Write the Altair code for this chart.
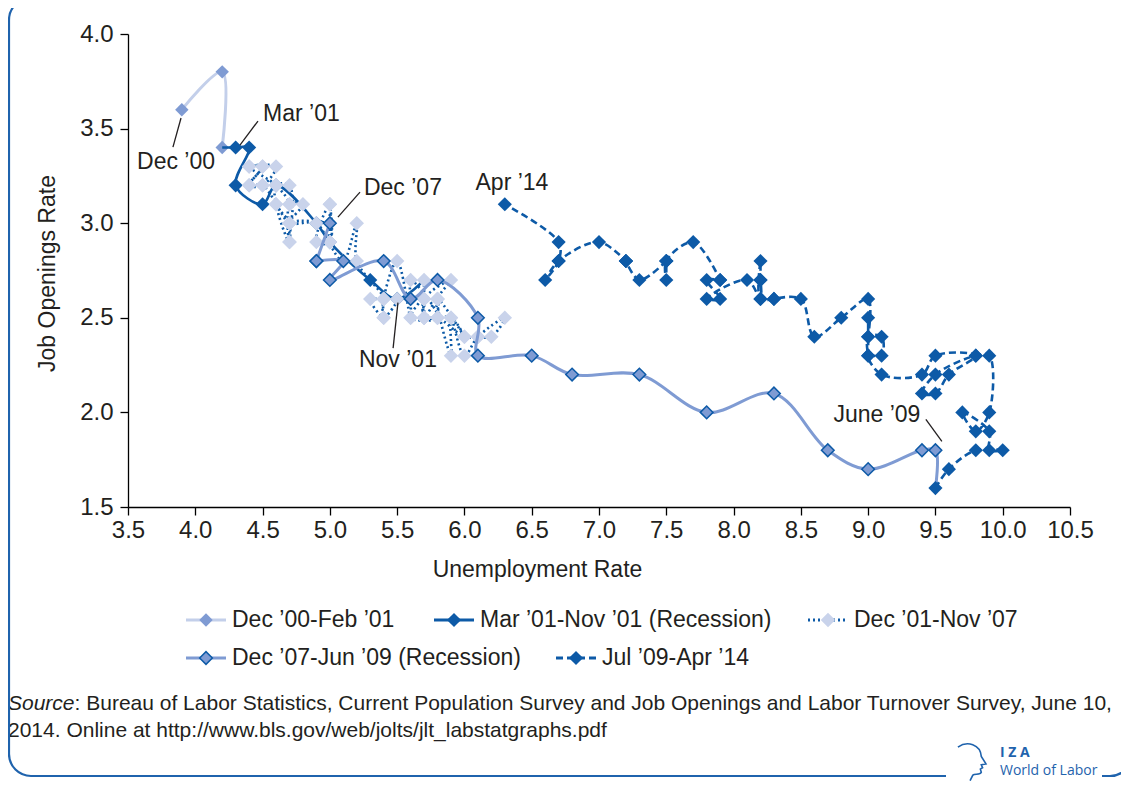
import altair as alt
import pandas as pd

# ---------------- data (unemployment rate u, job openings rate j) ----------------
# Dec '00 - Feb '01
s1_u = [3.9, 4.2, 4.2]
s1_j = [3.6, 3.8, 3.4]
# Mar '01 - Nov '01 (Recession)
s2_u = [4.3, 4.4, 4.3, 4.5, 4.6, 4.9, 5.0, 5.3, 5.5]
s2_j = [3.4, 3.4, 3.2, 3.1, 3.2, 3.0, 2.9, 2.7, 2.6]
# Dec '01 - Nov '07
s3_u = [5.7,
        5.7, 5.7, 5.7, 5.9, 5.8, 5.8, 5.8, 5.7, 5.7, 5.7, 5.9, 6.0,
        5.8, 5.9, 5.9, 6.0, 6.1, 6.3, 6.2, 6.1, 6.1, 6.0, 5.8, 5.7,
        5.7, 5.6, 5.8, 5.6, 5.6, 5.6, 5.5, 5.4, 5.4, 5.5, 5.4, 5.4,
        5.3, 5.4, 5.2, 5.2, 5.1, 5.0, 5.0, 4.9, 5.0, 5.0, 5.0, 4.9,
        4.7, 4.8, 4.7, 4.7, 4.6, 4.6, 4.7, 4.7, 4.5, 4.4, 4.5, 4.4,
        4.6, 4.5, 4.4, 4.5, 4.4, 4.6, 4.7, 4.6, 4.7, 4.7, 4.7]
s3_j = [2.7,
        2.6, 2.5, 2.6, 2.7, 2.6, 2.5, 2.6, 2.5, 2.6, 2.5, 2.5, 2.4,
        2.6, 2.3, 2.5, 2.3, 2.4, 2.5, 2.4, 2.4, 2.4, 2.4, 2.5, 2.5,
        2.6, 2.5, 2.5, 2.7, 2.6, 2.5, 2.8, 2.6, 2.5, 2.6, 2.6, 2.5,
        2.6, 2.6, 2.8, 3.0, 2.8, 2.9, 3.1, 2.9, 2.9, 3.1, 2.9, 3.0,
        3.0, 3.1, 3.1, 2.9, 3.1, 3.2, 3.2, 3.0, 3.2, 3.2, 3.3, 3.3,
        3.3, 3.2, 3.2, 3.3, 3.3, 3.2, 3.1, 3.1, 3.0, 2.9, 3.0]
# Dec '07 - Jun '09 (Recession)
s4_u = [5.0, 4.9, 4.9, 5.1, 5.0, 5.4, 5.6, 5.8, 6.1, 6.1, 6.5, 6.8, 7.3,
        7.8, 8.3, 8.7, 9.0, 9.4, 9.5]
s4_j = [3.0, 2.8, 2.8, 2.8, 2.7, 2.8, 2.6, 2.7, 2.5, 2.3, 2.3, 2.2, 2.2,
        2.0, 2.1, 1.8, 1.7, 1.8, 1.8]
# Jul '09 - Apr '14
s5_u = [9.5, 9.6, 9.8, 10.0, 9.9, 9.9,
        9.7, 9.8, 9.9, 9.9, 9.8, 9.5, 9.4, 9.5, 9.6, 9.8, 9.5, 9.4,
        9.1, 9.0, 9.1, 9.1, 9.0, 9.0, 9.0, 9.0, 9.0, 8.8, 8.6, 8.5,
        8.3, 8.3, 8.2, 8.2, 8.2, 8.2, 8.2, 8.1, 7.8, 7.9, 7.8, 7.9,
        7.9, 7.7, 7.5, 7.5, 7.5, 7.5, 7.3, 7.2, 7.2, 7.2, 7.0, 6.7,
        6.6, 6.7, 6.7, 6.3]
s5_j = [1.6, 1.7, 1.8, 1.8, 1.8, 1.9,
        2.0, 1.9, 2.0, 2.3, 2.3, 2.2, 2.1, 2.1, 2.2, 2.3, 2.3, 2.2,
        2.2, 2.3, 2.3, 2.4, 2.4, 2.3, 2.5, 2.4, 2.6, 2.5, 2.4, 2.6,
        2.6, 2.6, 2.6, 2.8, 2.7, 2.7, 2.6, 2.7, 2.6, 2.6, 2.7, 2.7,
        2.7, 2.9, 2.8, 2.7, 2.8, 2.8, 2.7, 2.8, 2.8, 2.8, 2.9, 2.8,
        2.7, 2.8, 2.9, 3.1]

series_names = ["Dec ’00-Feb ’01", "Mar ’01-Nov ’01 (Recession)", "Dec ’01-Nov ’07",
                "Dec ’07-Jun ’09 (Recession)", "Jul ’09-Apr ’14"]

x_ticks = [3.5, 4.0, 4.5, 5.0, 5.5, 6.0, 6.5, 7.0, 7.5, 8.0, 8.5, 9.0, 9.5, 10.0, 10.5]
y_ticks = [1.5, 2.0, 2.5, 3.0, 3.5, 4.0]

ann_text = ["Dec ’00", "Mar ’01", "Dec ’07", "Nov ’01", "Apr ’14", "June ’09"]
ann_x = [3.857, 4.789, 5.543, 5.506, 6.353, 9.065]
ann_y = [3.323, 3.577, 3.185, 2.275, 3.212, 1.984]

lead_x1 = [3.834, 4.332, 5.060, 5.506, 9.429]
lead_y1 = [3.402, 3.413, 3.032, 2.580, 1.963]
lead_x2 = [3.894, 4.466, 5.224, 5.470, 9.548]
lead_y2 = [3.556, 3.540, 3.164, 2.340, 1.847]

source_lines = ["Bureau of Labor Statistics, Current Population Survey and Job Openings and Labor Turnover Survey, June 10,",
                "2014. Online at http://www.bls.gov/web/jolts/jlt_labstatgraphs.pdf"]

# ---------------- styling ----------------
FONT = "Liberation Sans"
TXT = "#231f20"
DARK = "#0d5aa7"
LIGHT_LINE = "#c3cfea"
MED = "#7f9bd3"
LIGHT_MK = "#c9d3eb"
FRAME = "#1f63ad"
FS = 23

W, H = 942, 473

xs = alt.Scale(domain=[3.5, 10.5], nice=False, zero=False)
ys = alt.Scale(domain=[1.5, 4.0], nice=False, zero=False)

x_axis = alt.Axis(values=x_ticks, format=".1f", title="Unemployment Rate",
                  titleX=409, titleY=51, titleAnchor="start", titleAlign="center",
                  titleBaseline="top", labelPadding=3, tickSize=8, grid=False,
                  labelFlush=False, labelOverlap=False)
y_axis = alt.Axis(values=y_ticks, format=".1f", title="Job Openings Rate",
                  titleX=-81, titleY=239, titleAngle=-90, titleAlign="center",
                  titleBaseline="middle", labelPadding=7, tickSize=8, grid=False,
                  labelFlush=False, labelOverlap=False)


def frame(us, js):
    return pd.DataFrame({"u": us, "j": js, "o": list(range(len(us)))})


def enc(ch):
    return ch.encode(
        x=alt.X("u:Q", scale=xs, axis=x_axis),
        y=alt.Y("j:Q", scale=ys, axis=y_axis),
        order=alt.Order("o:Q"),
    )


line_data = [
    frame(s1_u, s1_j),
    frame([s1_u[-1]] + s2_u + [s3_u[0]], [s1_j[-1]] + s2_j + [s3_j[0]]),
    frame(s3_u + [s4_u[0]], s3_j + [s4_j[0]]),
    frame(s4_u + [s5_u[0]], s4_j + [s5_j[0]]),
    frame(s5_u, s5_j),
]
pt_data = [frame(s1_u, s1_j), frame(s2_u, s2_j), frame(s3_u, s3_j),
           frame(s4_u, s4_j), frame(s5_u, s5_j)]

line_styles = [
    dict(color=LIGHT_LINE, strokeWidth=3),
    dict(color=DARK, strokeWidth=2.6),
    dict(color=DARK, strokeWidth=2.6, strokeDash=[2, 3]),
    dict(color=MED, strokeWidth=3),
    dict(color=DARK, strokeWidth=2.6, strokeDash=[7, 4]),
]
pt_styles = [
    dict(fill=MED, stroke=MED, strokeWidth=0, size=180),
    dict(fill=DARK, stroke=DARK, strokeWidth=0, size=200),
    dict(fill=LIGHT_MK, stroke=LIGHT_MK, strokeWidth=0, size=210),
    dict(fill=MED, stroke=DARK, strokeWidth=1.5, size=160),
    dict(fill=DARK, stroke=DARK, strokeWidth=0, size=200),
]

layers = []
for ld, pd_, ls, ps in zip(line_data, pt_data, line_styles, pt_styles):
    layers.append(enc(alt.Chart(ld).mark_line(interpolate="catmull-rom", **ls)))
    layers.append(enc(alt.Chart(pd_).mark_point(shape="diamond", filled=True, opacity=1, **ps)))

# annotations
ann_df = pd.DataFrame({"t": ann_text, "u": ann_x, "j": ann_y})
layers.append(alt.Chart(ann_df).mark_text(font=FONT, fontSize=FS, color=TXT, align="center",
                                          baseline="middle").encode(
    x=alt.X("u:Q", scale=xs), y=alt.Y("j:Q", scale=ys), text="t:N"))
lead_df = pd.DataFrame({"u": lead_x1, "j": lead_y1, "u2": lead_x2, "j2": lead_y2})
layers.append(alt.Chart(lead_df).mark_rule(color=TXT, strokeWidth=1.3).encode(
    x=alt.X("u:Q", scale=xs), y=alt.Y("j:Q", scale=ys), x2="u2:Q", y2="j2:Q"))

one = pd.DataFrame({"k": [0]})


def rule(x1, x2, y, **kw):
    return alt.Chart(one).mark_rule(**kw).encode(x=alt.value(x1), x2=alt.value(x2), y=alt.value(y))


def diamond(x, y, **kw):
    return alt.Chart(one).mark_point(shape="diamond", filled=True, opacity=1, **kw).encode(
        x=alt.value(x), y=alt.value(y))


def label(x, y, t, **kw):
    base = dict(font=FONT, fontSize=FS, color=TXT, align="left", baseline="middle")
    base.update(kw)
    return alt.Chart(one).mark_text(text=t, **base).encode(x=alt.value(x), y=alt.value(y))


# legend (pixel positions relative to plot origin)
leg = [
    (58, 586, 0), (306, 586, 1), (680, 586, 2),
    (58, 624, 3), (428, 624, 4),
]
for lx, ly, i in leg:
    ls = dict(line_styles[i])
    ps = dict(pt_styles[i])
    ls["strokeWidth"] = 3
    layers.append(rule(lx, lx + 40, ly, **ls))
    layers.append(diamond(lx + 20, ly, **ps))
    layers.append(label(lx + 46, ly, series_names[i]))

# source note
SFS = 21
layers.append(label(-120, 670, "Source", fontSize=SFS, fontStyle="italic"))
layers.append(label(-120 + 3.168 * SFS, 670, ": " + source_lines[0], fontSize=SFS))
layers.append(label(-120, 697, source_lines[1], fontSize=SFS))

# frame
layers.append(alt.Chart(one).mark_rect(fill=None, fillOpacity=0, stroke=FRAME, strokeWidth=2.2,
                                       cornerRadius=22).encode(
    x=alt.value(-119), x2=alt.value(1004), y=alt.value(-36), y2=alt.value(742)))
layers.append(alt.Chart(one).mark_rect(fill="white", stroke=None).encode(
    x=alt.value(818), x2=alt.value(974), y=alt.value(730), y2=alt.value(750)))
# logo
layers.append(alt.Chart(one).mark_point(
    shape="M-0.7,-0.8 C-0.2,-1.15 0.5,-0.95 0.55,-0.3 L0.8,0.1 L0.55,0.15 L0.62,0.3 L0.5,0.38 L0.55,0.55 C0.5,0.7 0.2,0.62 0.1,0.7 L-0.05,1",
    filled=False, stroke=FRAME, strokeWidth=1.6, size=1400, opacity=1).encode(
    x=alt.value(843), y=alt.value(728)))
layers.append(label(872, 719, "I Z A", fontSize=14, fontWeight="bold", color=FRAME, font="Open Sans"))
layers.append(label(872, 737, "World of Labor", fontSize=14, color=FRAME, font="Open Sans"))

chart = alt.layer(*layers).properties(
    width=W, height=H,
    autosize=alt.AutoSizeParams(type="none"),
    padding={"left": 120, "top": 26, "right": 51, "bottom": 274},
).configure_view(strokeWidth=0).configure_axis(
    labelFont=FONT, titleFont=FONT, labelFontSize=24, titleFontSize=FS,
    labelColor=TXT, titleColor=TXT, domainColor="#000000", tickColor="#000000",
    domainWidth=1.3, tickWidth=1.3, titleFontWeight="normal",
)

chart.save("out.html", embed_options={"renderer": "svg", "actions": False})
